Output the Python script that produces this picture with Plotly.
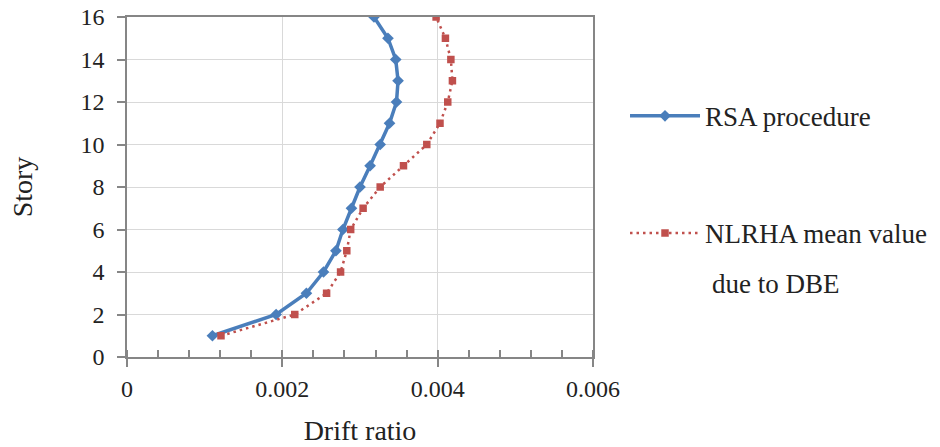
import plotly.graph_objects as go

stories = [1, 2, 3, 4, 5, 6, 7, 8, 9, 10, 11, 12, 13, 14, 15, 16]
rsa_drift = [0.00110, 0.00192, 0.00231, 0.00253, 0.00269, 0.00278, 0.00289, 0.00300,
             0.00313, 0.00326, 0.00338, 0.00347, 0.00349, 0.00346, 0.00336, 0.00318]
nlrha_drift = [0.00121, 0.00216, 0.00257, 0.00275, 0.00283, 0.00288, 0.00304, 0.00326,
               0.00356, 0.00386, 0.00403, 0.00413, 0.00419, 0.00417, 0.00410, 0.00398]
x_ticks = [0, 0.002, 0.004, 0.006]
x_tick_text = ["0", "0.002", "0.004", "0.006"]
y_ticks = [0, 2, 4, 6, 8, 10, 12, 14, 16]

FONT = "Liberation Serif, Times New Roman, serif"
AXIS = "#868686"
GRID = "#D9D9D9"
TXT = "#222222"

fig = go.Figure()
fig.add_trace(go.Scatter(
    x=rsa_drift, y=stories, mode="lines+markers", name="RSA procedure",
    legendgroup="a",
    line=dict(color="#4A7EBB", width=3.5),
    marker=dict(symbol="diamond", size=9, color="#4A7EBB"),
))
fig.add_trace(go.Scatter(
    x=nlrha_drift, y=stories, mode="lines+markers", name="NLRHA mean value",
    legendgroup="b",
    line=dict(color="#C0504D", width=2.5, dash="2.5px,4px"),
    marker=dict(symbol="square", size=7.5, color="#C0504D"),
))

fig.update_layout(
    width=940, height=447,
    margin=dict(l=127, r=347, t=17, b=90, autoexpand=False),
    paper_bgcolor="white", plot_bgcolor="white",
    font=dict(family=FONT, size=24, color=TXT),
    showlegend=True,
    legend=dict(
        x=1.0687, xanchor="left", y=0.78, yanchor="top",
        font=dict(family=FONT, size=27, color=TXT),
        tracegroupgap=79, valign="top", itemwidth=70,
        bgcolor="rgba(0,0,0,0)",
    ),
    annotations=[dict(
        text="due to DBE", xref="paper", yref="paper",
        x=1.251, y=0.2147, xanchor="left", yanchor="middle", showarrow=False,
        font=dict(family=FONT, size=27, color=TXT),
    )],
)

fig.update_xaxes(
    range=[0, 0.006], tickvals=x_ticks, ticktext=x_tick_text,
    showline=True, linecolor=AXIS, linewidth=1.5, mirror=True,
    showgrid=True, gridcolor=GRID, gridwidth=1, zeroline=False,
    ticks="outside", ticklen=8, tickcolor=AXIS, tickwidth=1.5,
    minor=dict(dtick=0.0004, ticks="inside", ticklen=7, tickcolor=AXIS, tickwidth=1.5, showgrid=False),
    tickfont=dict(family=FONT, size=24, color=TXT),
    ticklabelstandoff=1, automargin=False,
    title=dict(text="Drift ratio", font=dict(family=FONT, size=28, color=TXT), standoff=20),
)
fig.update_yaxes(
    range=[0, 16], tickvals=y_ticks,
    showline=True, linecolor=AXIS, linewidth=1.5, mirror=True,
    showgrid=True, gridcolor=GRID, gridwidth=1, zeroline=False,
    ticks="outside", ticklen=8, tickcolor=AXIS, tickwidth=1.5,
    tickfont=dict(family=FONT, size=24, color=TXT),
    ticklabelstandoff=8, automargin=False,
    title=dict(text="Story", font=dict(family=FONT, size=28, color=TXT), standoff=40),
)

fig.write_html("out.html")
